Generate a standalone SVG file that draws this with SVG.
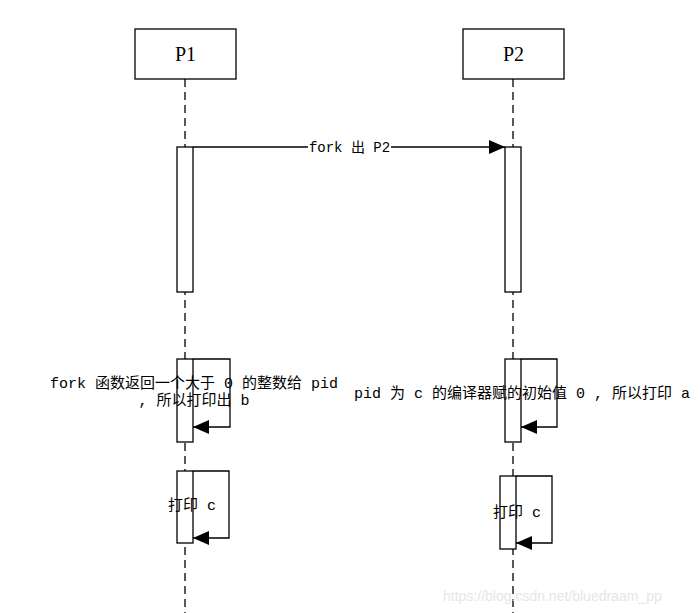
<svg xmlns="http://www.w3.org/2000/svg" width="700" height="613" viewBox="0 0 700 613">
<defs>
<style>
.head{fill:#fff;stroke:#000;stroke-width:1.3}
.hl{font-family:"Liberation Serif","Noto Sans CJK SC",serif;font-size:20px;fill:#000;text-anchor:middle}
.life{stroke:#000;stroke-width:1.3;stroke-dasharray:8 5;fill:none}
.act{fill:#fff;stroke:#000;stroke-width:1.3}
.msg{stroke:#000;stroke-width:1.3;fill:none}
.t{font-family:"Liberation Mono","Noto Sans CJK SC",monospace;font-size:14px;fill:#000}
.t2{font-family:"Liberation Mono","Noto Sans CJK SC",monospace;font-size:15px;fill:#000}
.wm{font-family:"Liberation Sans",Arial,sans-serif;font-size:14px;fill:#e6e6e6}
</style>
<marker id="ah" viewBox="0 0 16 14" refX="16" refY="7" markerWidth="16" markerHeight="14" markerUnits="userSpaceOnUse" orient="auto">
<path d="M0,0 L16,7 L0,14 Z" fill="#000"/>
</marker>
</defs>
<rect width="700" height="613" fill="#fff"/>
<g id="lifelines">
<line class="life" x1="185" y1="79" x2="185" y2="613"/>
<line class="life" x1="513" y1="79" x2="513" y2="613"/>
</g>
<g id="P1">
<rect class="head" x="135" y="29" width="101" height="50"/>
<text class="hl" x="185.5" y="61">P1</text>
</g>
<g id="P2">
<rect class="head" x="463" y="29" width="101" height="50"/>
<text class="hl" x="513.5" y="61">P2</text>
</g>
<g id="activations">
<rect class="act" x="177" y="147" width="16" height="145"/>
<rect class="act" x="505" y="147" width="16" height="145"/>
<rect class="act" x="177" y="359" width="16" height="83"/>
<rect class="act" x="505" y="359" width="16" height="83"/>
<rect class="act" x="177" y="471" width="16" height="72"/>
<rect class="act" x="500" y="476" width="16" height="73"/>
</g>
<g id="connectors">
<line class="msg" x1="193" y1="147" x2="505" y2="147" marker-end="url(#ah)"/>
<rect x="308" y="139" width="83" height="16" fill="#fff"/>
<text class="t" x="349.5" y="151.5" text-anchor="middle">fork 出 P2</text>
<path class="msg" d="M193,359 H230 V427 H193" marker-end="url(#ah)"/>
<path class="msg" d="M521,359 H557 V427 H521" marker-end="url(#ah)"/>
<path class="msg" d="M193,471 H229 V538 H193" marker-end="url(#ah)"/>
<path class="msg" d="M516,476 H552 V543 H516" marker-end="url(#ah)"/>
</g>
<g id="labels">
<text class="t2" x="194" y="388" text-anchor="middle">fork 函数返回一个大于 0 的整数给 pid</text>
<text class="t2" x="194" y="405" text-anchor="middle">, 所以打印出 b</text>
<text class="t2" x="522" y="398" text-anchor="middle">pid 为 c 的编译器赋的初始值 0 , 所以打印 a</text>
<text class="t2" x="168" y="510">打印 c</text>
<text class="t2" x="493" y="517">打印 c</text>
</g>
<text class="wm" x="443" y="601">https://blog.csdn.net/bluedraam_pp</text>
</svg>
